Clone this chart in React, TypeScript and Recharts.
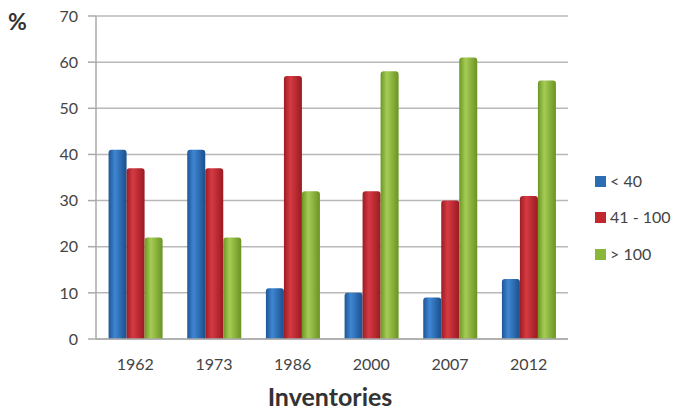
import React from "react";
import { BarChart, Bar, XAxis, YAxis, CartesianGrid } from "recharts";

const categories = ["1962", "1973", "1986", "2000", "2007", "2012"];
const under40 = [41, 41, 11, 10, 9, 13];
const mid41to100 = [37, 37, 57, 32, 30, 31];
const over100 = [22, 22, 32, 58, 61, 56];
const yTicks = [0, 10, 20, 30, 40, 50, 60, 70];

const series = [
  { key: "a", name: "< 40", grad: "gBlue", swatch: "#2b6cb5", values: under40 },
  { key: "b", name: "41 - 100", grad: "gRed", swatch: "#c1272d", values: mid41to100 },
  { key: "c", name: "> 100", grad: "gGreen", swatch: "#8ab63a", values: over100 },
];

const data = categories.map((c, i) => ({
  cat: c,
  a: under40[i],
  b: mid41to100[i],
  c: over100[i],
}));

const FONT = "Lato, 'Open Sans', sans-serif";

export default function App() {
  return (
    <div style={{ position: "absolute", left: 0, top: 0, width: 679, height: 411, background: "#fff", fontFamily: FONT }}>
      <BarChart
        width={679}
        height={411}
        data={data}
        margin={{ top: 16, right: 111, bottom: 42, left: 40 }}
        barCategoryGap="16%"
        barGap={0}
      >
        <defs>
          <linearGradient id="gBlue" x1="0" y1="0" x2="1" y2="0">
            <stop offset="0%" stopColor="#1d5597" />
            <stop offset="35%" stopColor="#3f86d2" />
            <stop offset="100%" stopColor="#1a4f8c" />
          </linearGradient>
          <linearGradient id="gRed" x1="0" y1="0" x2="1" y2="0">
            <stop offset="0%" stopColor="#9c1c22" />
            <stop offset="35%" stopColor="#d63a43" />
            <stop offset="100%" stopColor="#9a1a21" />
          </linearGradient>
          <linearGradient id="gGreen" x1="0" y1="0" x2="1" y2="0">
            <stop offset="0%" stopColor="#6c9624" />
            <stop offset="35%" stopColor="#a5cc55" />
            <stop offset="100%" stopColor="#6b9322" />
          </linearGradient>
        </defs>
        <CartesianGrid vertical={false} stroke="#b8b8b8" strokeWidth={1.5} />
        <XAxis
          dataKey="cat"
          height={30}
          tickLine={false}
          axisLine={{ stroke: "#aaa", strokeWidth: 1.5 }}
          tick={{ fill: "#444", fontSize: 16, fontFamily: FONT }}
          tickMargin={14}
        />
        <YAxis
          width={56}
          domain={[0, 70]}
          ticks={yTicks}
          interval={0}
          tickSize={8}
          tickMargin={10}
          tickLine={{ stroke: "#aaa", strokeWidth: 1.5 }}
          axisLine={{ stroke: "#aaa", strokeWidth: 1.5 }}
          tick={{ fill: "#444", fontSize: 16, fontFamily: FONT }}
        />
        {series.map((s) => (
          <Bar
            key={s.key}
            dataKey={s.key}
            name={s.name}
            fill={`url(#${s.grad})`}
            radius={[3, 3, 0, 0]}
            isAnimationActive={false}
          />
        ))}
      </BarChart>
      <div style={{ position: "absolute", left: 8, top: 7, fontSize: 23, fontWeight: 700, color: "#333" }}>%</div>
      <div
        style={{
          position: "absolute",
          left: 80,
          width: 500,
          top: 381,
          textAlign: "center",
          fontSize: 25,
          fontWeight: 700,
          color: "#333",
        }}
      >
        Inventories
      </div>
      <div style={{ position: "absolute", left: 595, top: 163 }}>
        {series.map((s) => (
          <div key={s.key} style={{ display: "flex", alignItems: "center", height: 36.5 }}>
            <div
              style={{
                width: 9,
                height: 9,
                backgroundColor: s.swatch,
                marginRight: 4,
                border: `1px solid ${s.swatch}`,
              }}
            />
            <span style={{ fontSize: 16, color: "#444", marginTop: -2 }}>{s.name}</span>
          </div>
        ))}
      </div>
    </div>
  );
}
